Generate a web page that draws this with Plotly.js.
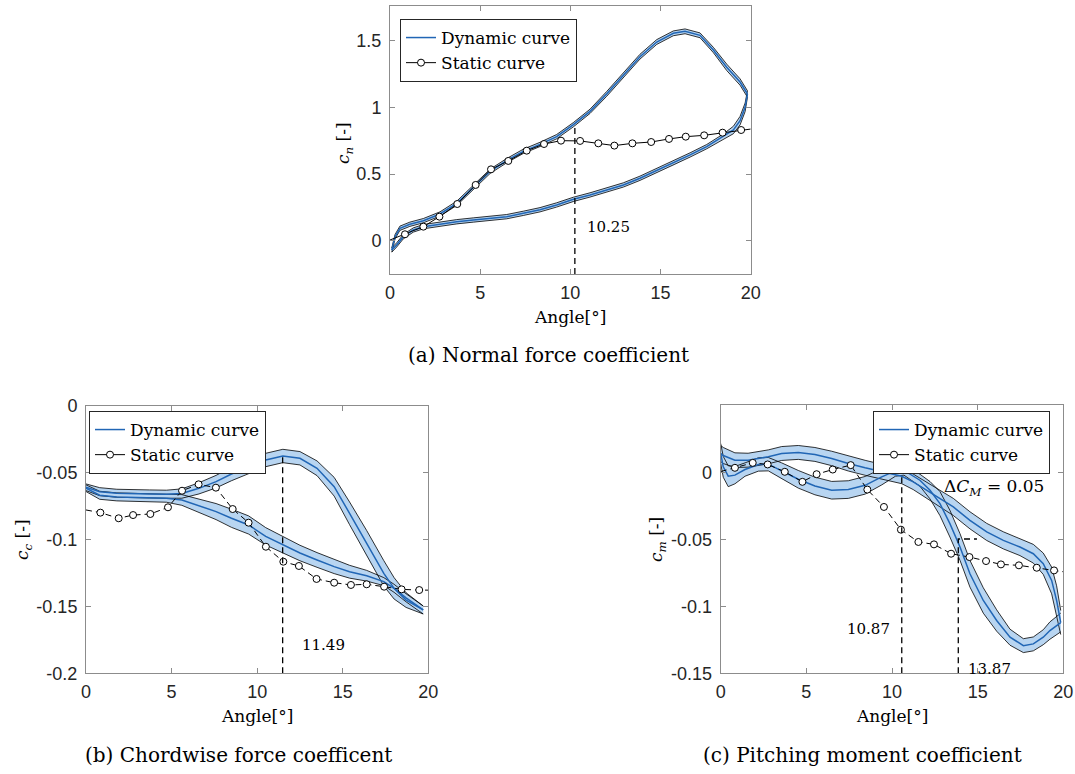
<!DOCTYPE html>
<html><head><meta charset="utf-8">
<script src="https://cdn.plot.ly/plotly-3.0.1.min.js"></script>
<style>html,body{margin:0;padding:0;background:#fff}#chart{width:1075px;height:774px}</style>
</head><body><div id="chart"></div>
<script>
// ---------- (a) Normal force coefficient ----------
const aUpX = [0.1, 0.28, 0.55, 1.1, 1.85, 2.77, 3.7, 4.62, 5.55, 6.47, 7.39, 8.32, 9.24, 10.17, 11.09, 12.01, 12.94, 13.86, 14.79, 15.71, 16.36, 17.19, 17.93, 18.67, 19.41, 19.82];
const aUpY = [-0.07, 0.03, 0.093, 0.123, 0.15, 0.2, 0.28, 0.4, 0.52, 0.6, 0.67, 0.722, 0.78, 0.87, 0.97, 1.1, 1.24, 1.38, 1.49, 1.555, 1.57, 1.54, 1.43, 1.3, 1.19, 1.1];
const aUpW = [0.016, 0.016, 0.016, 0.016, 0.016, 0.016, 0.016, 0.016, 0.016, 0.016, 0.016, 0.016, 0.016, 0.016, 0.016, 0.018, 0.018, 0.018, 0.018, 0.018, 0.018, 0.018, 0.02, 0.024, 0.024, 0.024];
const aDnX = [0.1, 0.37, 0.74, 1.29, 1.85, 2.77, 3.7, 4.62, 5.55, 6.47, 7.39, 8.32, 9.24, 10.17, 11.09, 12.01, 12.94, 13.86, 14.79, 15.71, 16.64, 17.56, 18.48, 19.04, 19.41, 19.69, 19.82];
const aDnY = [-0.07, -0.032, 0.03, 0.08, 0.105, 0.125, 0.142, 0.155, 0.168, 0.18, 0.205, 0.232, 0.268, 0.31, 0.343, 0.38, 0.418, 0.468, 0.525, 0.58, 0.643, 0.705, 0.78, 0.83, 0.9, 1.0, 1.1];
const aDnW = [0.016, 0.016, 0.016, 0.016, 0.016, 0.016, 0.016, 0.016, 0.016, 0.016, 0.016, 0.016, 0.016, 0.016, 0.016, 0.016, 0.016, 0.016, 0.016, 0.016, 0.016, 0.016, 0.02, 0.028, 0.032, 0.032, 0.024];
const aStX = [0, 0.83, 1.85, 2.74, 3.73, 4.75, 5.6, 6.56, 7.58, 8.54, 9.48, 10.54, 11.55, 12.44, 13.44, 14.48, 15.47, 16.4, 17.42, 18.44, 19.47, 20];
const aStY = [0.005, 0.048, 0.105, 0.18, 0.275, 0.418, 0.535, 0.598, 0.675, 0.725, 0.75, 0.748, 0.73, 0.713, 0.73, 0.74, 0.763, 0.78, 0.79, 0.81, 0.83, 0.837];
const aMarkX = [10.25, 10.25], aMarkY = [-0.25, 0.85];
const aLabel = {text: '10.25', x: 10.8, y: 0.105};

// ---------- (b) Chordwise force coefficient ----------
const bUpX = [0, 0.8, 1.8, 2.8, 3.7, 4.7, 5.6, 6.6, 7.6, 8.5, 9.5, 10.5, 11.5, 12.5, 13.5, 14.5, 15.4, 16.4, 17.4, 18.0, 18.7, 19.7];
const bUpY = [-0.0608, -0.0641, -0.0653, -0.0653, -0.0658, -0.066, -0.0655, -0.0616, -0.0566, -0.0509, -0.0454, -0.0404, -0.0374, -0.0391, -0.0466, -0.0604, -0.0803, -0.1027, -0.1252, -0.1364, -0.1452, -0.1526];
const bUpW = [0.0025, 0.003, 0.003, 0.003, 0.003, 0.003, 0.0035, 0.0042, 0.0047, 0.005, 0.005, 0.005, 0.005, 0.005, 0.0055, 0.007, 0.0085, 0.0095, 0.0095, 0.008, 0.0055, 0.003];
const bDnX = [0, 0.8, 1.8, 2.8, 3.7, 4.7, 5.6, 6.6, 7.6, 8.5, 9.5, 10.5, 11.5, 12.5, 13.5, 14.5, 15.4, 16.4, 17.4, 18.0, 18.7, 19.7];
const bDnY = [-0.0615, -0.0668, -0.068, -0.0685, -0.0688, -0.069, -0.0703, -0.0748, -0.079, -0.084, -0.089, -0.0975, -0.104, -0.11, -0.1152, -0.1202, -0.124, -0.127, -0.1314, -0.1364, -0.1435, -0.1526];
const bDnW = [0.0025, 0.003, 0.003, 0.003, 0.003, 0.003, 0.004, 0.005, 0.006, 0.0068, 0.0068, 0.0065, 0.0062, 0.0058, 0.0055, 0.0052, 0.0048, 0.004, 0.003, 0.003, 0.003, 0.003];
const bStX = [0, 0.84, 1.91, 2.75, 3.76, 4.79, 5.61, 6.58, 7.59, 8.57, 9.5, 10.51, 11.53, 12.44, 13.47, 14.5, 15.48, 16.4, 17.42, 18.44, 19.47, 20];
const bStY = [-0.0778, -0.0798, -0.084, -0.0816, -0.0808, -0.0758, -0.0634, -0.0586, -0.0611, -0.0771, -0.0873, -0.1053, -0.1165, -0.1197, -0.1294, -0.1322, -0.1339, -0.1334, -0.1352, -0.1372, -0.1377, -0.1378];
const bMarkX = [11.49, 11.49], bMarkY = [-0.2, -0.037];
const bLabel = {text: '11.49', x: 12.5, y: -0.179};

// ---------- (c) Pitching moment coefficient ----------
const cAX = [0, 0.15, 0.44, 0.83, 1.42, 2.2, 2.78, 3.56, 4.53, 5.5, 6.48, 7.45, 8.43, 9.4, 10.2, 10.7, 11.63, 12.22, 12.8, 13.38, 13.97, 14.55, 15.33, 16.11, 16.89, 17.67, 18.25, 18.83, 19.22, 19.85];
const cAY = [0.0145, 0.0045, -0.0025, -0.0017, 0.0025, 0.0063, 0.0065, 0.0015, -0.0048, -0.0098, -0.013, -0.0125, -0.0093, -0.003, 0.0015, 0.0018, -0.0055, -0.013, -0.023, -0.038, -0.0555, -0.0755, -0.0955, -0.1105, -0.123, -0.1293, -0.128, -0.123, -0.118, -0.112];
const cAW = [0.0075, 0.0078, 0.0078, 0.0065, 0.005, 0.005, 0.005, 0.006, 0.0066, 0.0066, 0.0066, 0.0066, 0.0066, 0.006, 0.004, 0.0035, 0.0045, 0.0065, 0.009, 0.01, 0.01, 0.01, 0.0095, 0.008, 0.006, 0.0052, 0.0052, 0.0056, 0.0065, 0.007];
const cBX = [0, 0.15, 0.83, 1.6, 2.78, 3.56, 4.53, 5.5, 6.48, 7.45, 8.43, 9.4, 10.57, 11.24, 12.22, 13.58, 14.55, 15.53, 16.5, 17.47, 18.25, 18.83, 19.32, 19.61, 19.85];
const cBY = [0.0145, 0.013, 0.0095, 0.0095, 0.012, 0.0145, 0.0153, 0.0138, 0.0108, 0.007, 0.0038, 0.0008, -0.0025, -0.0067, -0.0145, -0.0255, -0.0355, -0.0442, -0.0505, -0.0555, -0.0605, -0.068, -0.0805, -0.0955, -0.112];
const cBW = [0.006, 0.006, 0.0055, 0.0052, 0.0052, 0.0052, 0.0052, 0.0052, 0.0054, 0.0056, 0.0056, 0.0056, 0.0056, 0.0058, 0.006, 0.0064, 0.0064, 0.0064, 0.0064, 0.0064, 0.007, 0.008, 0.01, 0.011, 0.009];
const cStX = [0, 0.83, 1.87, 2.74, 3.74, 4.77, 5.6, 6.54, 7.59, 8.56, 9.53, 10.52, 11.54, 12.45, 13.45, 14.52, 15.49, 16.36, 17.41, 18.45, 19.46, 20];
const cStY = [0.001, 0.0038, 0.0075, 0.0063, 0.0008, -0.0067, -0.001, 0.0025, 0.0058, -0.0125, -0.0255, -0.0425, -0.0517, -0.0535, -0.0605, -0.063, -0.066, -0.0685, -0.0692, -0.071, -0.073, -0.074];
const cMark1X = [10.57, 10.57, 14.75], cMark1Y = [-0.15, 0.0028, 0.0028];
const cMark2X = [13.87, 13.87, 14.96], cMark2Y = [-0.15, -0.0495, -0.0495];
const cLabels = [
  {text: '10.87', x: 10.0, y: -0.1167, anchor: 'right', size: 15},
  {text: '13.87', x: 14.3, y: -0.1467, anchor: 'left', size: 15},
  {text: '\u0394<i>C<sub>M</sub></i> = 0.05', x: 12.9, y: -0.0113, anchor: 'left', size: 17}
];

// tick labels
const xTicks = [0, 5, 10, 15, 20];
const aYTicks = [0, 0.5, 1, 1.5], aYText = ['0', '0.5', '1', '1.5'];
const bYTicks = [-0.2, -0.15, -0.1, -0.05, 0], bYText = ['-0.2', '-0.15', '-0.1', '-0.05', '0'];
const cYTicks = [-0.15, -0.1, -0.05, 0], cYText = ['-0.15', '-0.1', '-0.05', '0'];

const legendNames = ['Dynamic curve', 'Static curve'];
const captions = ['(a) Normal force coefficient', '(b) Chordwise force coefficent', '(c) Pitching moment coefficient'];
const yTitles = ['<i>c<sub>n</sub></i> [-]', '<i>c<sub>c</sub></i> [-]', '<i>c<sub>m</sub></i> [-]'];
const xTitle = 'Angle[\u00b0]';

// ---------- drawing ----------
const W = 1075, H = 774;
const fx = v => v / W, fy = v => 1 - v / H;
const BLUE = '#2166b5', FILL = '#b8d5f1', INK = '#000';
const SERIF = 'DejaVu Serif', SANS = 'Liberation Sans';
const DASH = '6px,4px';

const traces = [];
function dyn(xs, ys, ws, xa, ya) {
  const up = ys.map((v, i) => v + ws[i]);
  const lo = ys.map((v, i) => v - ws[i]);
  const fill = {x: xs.concat(xs.slice().reverse()), y: up.concat(lo.slice().reverse()),
    xaxis: xa, yaxis: ya, mode: 'lines', fill: 'toself', fillcolor: FILL,
    line: {width: 0}, showlegend: false, hoverinfo: 'skip'};
  const o1 = {x: xs, y: up, xaxis: xa, yaxis: ya, mode: 'lines', line: {color: INK, width: 0.8}, showlegend: false, hoverinfo: 'skip'};
  const o2 = {x: xs, y: lo, xaxis: xa, yaxis: ya, mode: 'lines', line: {color: INK, width: 0.8}, showlegend: false, hoverinfo: 'skip'};
  const c = {x: xs, y: ys, xaxis: xa, yaxis: ya, mode: 'lines', line: {color: BLUE, width: 1.5}, showlegend: false, hoverinfo: 'skip'};
  return {fill, o1, o2, c};
}
function panel(br1, br2, stX, stY, dashStatic, marks, xa, ya, leg) {
  const d1 = dyn(br1[0], br1[1], br1[2], xa, ya);
  const d2 = dyn(br2[0], br2[1], br2[2], xa, ya);
  traces.push(d1.fill, d2.fill, d1.o1, d1.o2, d2.o1, d2.o2, d1.c, d2.c);
  traces.push({x: stX, y: stY, xaxis: xa, yaxis: ya, mode: 'lines',
    line: {color: INK, width: 1, dash: dashStatic ? DASH : 'solid'}, showlegend: false, hoverinfo: 'skip'});
  traces.push({x: stX.slice(1, -1), y: stY.slice(1, -1), xaxis: xa, yaxis: ya, mode: 'markers',
    marker: {symbol: 'circle', size: 7, color: '#fff', line: {color: INK, width: 1}}, showlegend: false, hoverinfo: 'skip'});
  marks.forEach(m => traces.push({x: m[0], y: m[1], xaxis: xa, yaxis: ya, mode: 'lines',
    line: {color: INK, width: 1.3, dash: DASH}, showlegend: false, hoverinfo: 'skip'}));
  // legend-only entries (no plotted points)
  traces.push({x: [null], y: [null], xaxis: xa, yaxis: ya, mode: 'lines', name: legendNames[0],
    line: {color: BLUE, width: 1.5}, legend: leg, showlegend: true, hoverinfo: 'skip'});
  traces.push({x: [null], y: [null], xaxis: xa, yaxis: ya, mode: 'lines+markers', name: legendNames[1],
    line: {color: INK, width: 1}, marker: {symbol: 'circle', size: 7, color: '#fff', line: {color: INK, width: 1}},
    legend: leg, showlegend: true, hoverinfo: 'skip'});
}
panel([aUpX, aUpY, aUpW], [aDnX, aDnY, aDnW], aStX, aStY, false, [[aMarkX, aMarkY]], 'x', 'y', 'legend');
panel([bUpX, bUpY, bUpW], [bDnX, bDnY, bDnW], bStX, bStY, true, [[bMarkX, bMarkY]], 'x2', 'y2', 'legend2');
panel([cAX, cAY, cAW], [cBX, cBY, cBW], cStX, cStY, true, [[cMark1X, cMark1Y], [cMark2X, cMark2Y]], 'x3', 'y3', 'legend3');

const axBase = {showline: true, mirror: 'ticks', linecolor: '#8c8c8c', linewidth: 1,
  ticks: 'inside', ticklen: 5, tickcolor: '#8c8c8c', showgrid: false, zeroline: false,
  tickfont: {family: SANS, size: 18, color: '#262626'}, fixedrange: true};
function xax(dom, anchor) {
  return Object.assign({}, axBase, {domain: dom, anchor: anchor, range: [0, 20], tickvals: xTicks,
    ticktext: xTicks.map(String), ticklabelstandoff: 2});
}
function yax(dom, anchor, range, tv, tt) {
  return Object.assign({}, axBase, {domain: dom, anchor: anchor, range: range, tickvals: tv, ticktext: tt,
    ticklabelstandoff: 4});
}
const legBase = {bgcolor: '#fff', bordercolor: '#262626', borderwidth: 1,
  font: {family: SERIF, size: 17, color: '#000'}, xanchor: 'left', yanchor: 'top',
  traceorder: 'normal', itemwidth: 30, tracegroupgap: 0};

const ann = [];
function txt(text, x, y, opts) {
  ann.push(Object.assign({text: text, x: x, y: y, xref: 'paper', yref: 'paper', showarrow: false,
    font: {family: SERIF, size: 17, color: '#000'}, xanchor: 'center', yanchor: 'middle'}, opts || {}));
}
// captions
txt(captions[0], fx(548), fy(355), {font: {family: SERIF, size: 20, color: '#000'}});
txt(captions[1], fx(238), fy(755), {font: {family: SERIF, size: 20, color: '#000'}});
txt(captions[2], fx(862), fy(755), {font: {family: SERIF, size: 20, color: '#000'}});
// x titles
txt(xTitle, fx(570), fy(317));
txt(xTitle, fx(257), fy(716));
txt(xTitle, fx(892), fy(716));
// y titles
txt(yTitles[0], fx(345), fy(143), {textangle: -90});
txt(yTitles[1], fx(23), fy(540), {textangle: -90});
txt(yTitles[2], fx(657), fy(540), {textangle: -90});
// value labels in data coords
function dtxt(l, xr, yr, anchor, size) {
  ann.push({text: l.text, x: l.x, y: l.y, xref: xr, yref: yr, showarrow: false,
    font: {family: SERIF, size: size || 15, color: '#000'}, xanchor: anchor || 'left', yanchor: 'middle'});
}
dtxt(aLabel, 'x', 'y');
dtxt(bLabel, 'x2', 'y2');
cLabels.forEach(l => dtxt(l, 'x3', 'y3', l.anchor, l.size));

const layout = {
  width: W, height: H, margin: {l: 0, r: 0, t: 0, b: 0},
  paper_bgcolor: '#fff', plot_bgcolor: '#fff',
  font: {family: SANS, color: '#262626'},
  xaxis: xax([fx(390), fx(750.7)], 'y'),
  yaxis: yax([fy(274), fy(6)], 'x', [-0.25, 1.76], aYTicks, aYText),
  xaxis2: xax([fx(86), fx(428.3)], 'y2'),
  yaxis2: yax([fy(673.3), fy(406)], 'x2', [-0.2, 0], bYTicks, bYText),
  xaxis3: xax([fx(720.7), fx(1063.3)], 'y3'),
  yaxis3: yax([fy(673.3), fy(405)], 'x3', [-0.15, 0.0508], cYTicks, cYText),
  legend: Object.assign({}, legBase, {x: fx(400), y: fy(19)}),
  legend2: Object.assign({}, legBase, {x: fx(89), y: fy(411)}),
  legend3: Object.assign({}, legBase, {x: fx(873), y: fy(411)}),
  annotations: ann,
  showlegend: true
};
Plotly.newPlot('chart', traces, layout, {displayModeBar: false, staticPlot: true});
</script></body></html>
